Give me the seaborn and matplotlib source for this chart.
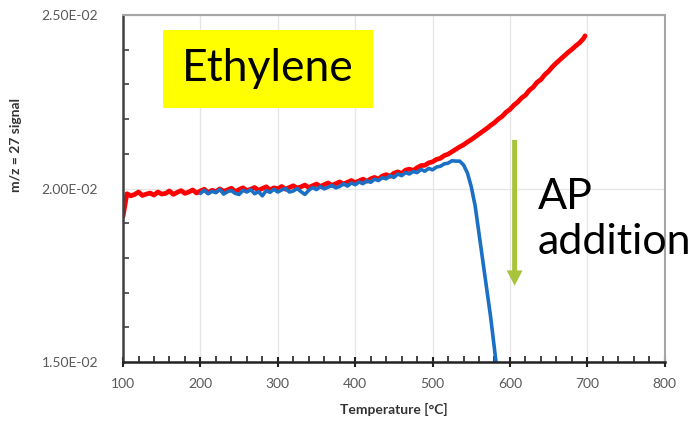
import matplotlib
matplotlib.use('Agg')
import matplotlib.pyplot as plt
import matplotlib.ticker as mticker
from matplotlib.patches import Rectangle
import seaborn as sns

# 데이터
temp_red = list(range(100, 700, 5)) + [697]
signal_red = [
    0.01920, 0.01985, 0.01979, 0.01983, 0.01990, 0.01980, 0.01984, 0.01987, 0.01981, 0.01990,
    0.01984, 0.01986, 0.01993, 0.01983, 0.01989, 0.01994, 0.01986, 0.01990, 0.01996, 0.01987,
    0.01993, 0.01998, 0.01988, 0.01995, 0.01991, 0.01999, 0.01992, 0.01996, 0.02001, 0.01991,
    0.01997, 0.02002, 0.01994, 0.01998, 0.02003, 0.01995, 0.02000, 0.02005, 0.01996, 0.02002,
    0.01999, 0.02006, 0.01998, 0.02003, 0.02008, 0.02001, 0.02005, 0.02010, 0.02003, 0.02008,
    0.02013, 0.02006, 0.02011, 0.02016, 0.02009, 0.02014, 0.02019, 0.02013, 0.02018, 0.02023,
    0.02017, 0.02022, 0.02027, 0.02021, 0.02028, 0.02032, 0.02027, 0.02036, 0.02040, 0.02035,
    0.02044, 0.02048, 0.02043, 0.02053, 0.02056, 0.02052,
    0.02060, 0.02066, 0.02067, 0.02074, 0.02077, 0.02084, 0.02087, 0.02095, 0.02099, 0.02106,
    0.02113, 0.02120, 0.02126, 0.02134, 0.02141, 0.02149, 0.02157, 0.02165, 0.02173, 0.02182,
    0.02190, 0.02200, 0.02208, 0.02220, 0.02228, 0.02240, 0.02249, 0.02261, 0.02269, 0.02283,
    0.02292, 0.02306, 0.02314, 0.02328, 0.02338, 0.02351, 0.02362, 0.02372, 0.02382, 0.02392,
    0.02401, 0.02411, 0.02420, 0.02432, 0.02440,
]

temp_blue = list(range(200, 555, 5)) + [555, 560, 565, 570, 575, 582, 585]
signal_blue = [
    0.01986, 0.01995, 0.01985, 0.01992, 0.01988, 0.01998, 0.01984, 0.01991, 0.01994, 0.01986,
    0.01983, 0.01995, 0.01990, 0.01997, 0.01985, 0.01991, 0.01979, 0.01994, 0.01989, 0.01998,
    0.01990, 0.01996, 0.02000, 0.01990, 0.01993, 0.02000, 0.01991, 0.01983, 0.01995, 0.02003,
    0.01997, 0.02006, 0.01999, 0.02004, 0.02009, 0.02002, 0.02006, 0.02014, 0.02007, 0.02016,
    0.02011, 0.02019, 0.02014, 0.02022, 0.02018, 0.02027, 0.02023, 0.02031, 0.02028, 0.02037,
    0.02032, 0.02042, 0.02037, 0.02046, 0.02042, 0.02049, 0.02046, 0.02055, 0.02050, 0.02058,
    0.02054, 0.02062, 0.02064, 0.02071, 0.02073, 0.02080, 0.02079, 0.02079, 0.02068, 0.02045,
    0.02005,
    0.01950, 0.01870, 0.01790, 0.01710, 0.01630, 0.01500, 0.01450,
]

arrow_temp = 606
arrow_from = 0.0214
arrow_to = 0.0172

x_ticks = [100, 200, 300, 400, 500, 600, 700, 800]
y_ticks = [0.015, 0.020, 0.025]

sns.set_theme(style='white')
plt.rcParams['font.family'] = ['Lato', 'DejaVu Sans']

fig = plt.figure(figsize=(6.99, 4.22), dpi=100)
ax = fig.add_axes([0.176, 0.142, 0.775, 0.8225])

sns.lineplot(x=temp_red, y=signal_red, ax=ax, color='#ff0000', linewidth=3.4)
sns.lineplot(x=temp_blue, y=signal_blue, ax=ax, color='#1a70c4', linewidth=2.6)

ax.set_xlim(100, 800)
ax.set_ylim(0.015, 0.025)
ax.set_xticks(x_ticks)
ax.set_yticks(y_ticks)
ax.xaxis.set_minor_locator(mticker.MultipleLocator(20))
ax.yaxis.set_minor_locator(mticker.MultipleLocator(0.001))
ax.yaxis.set_major_formatter(mticker.FormatStrFormatter('%.2E'))

ax.grid(True, which='major', color='#e6e6e6', linewidth=1)
ax.set_axisbelow(True)

for side in ['top', 'right']:
    ax.spines[side].set_color('#a6a6a6')
    ax.spines[side].set_linewidth(1.5)
ax.spines['left'].set_color('#404040')
ax.spines['left'].set_linewidth(1.8)
ax.spines['bottom'].set_color('#222222')
ax.spines['bottom'].set_linewidth(1.8)

ax.tick_params(axis='x', which='major', direction='inout', length=7, width=1.5,
               color='#222222', labelsize=10, labelcolor='#595959', pad=8, bottom=True)
ax.tick_params(axis='x', which='minor', direction='in', length=4, width=1.2,
               color='#222222', bottom=True)
ax.tick_params(axis='y', which='major', direction='in', length=0, labelsize=10,
               labelcolor='#595959', pad=18, left=True)
ax.tick_params(axis='y', which='minor', direction='in', length=4, width=1.2,
               color='#404040', left=True)

ax.set_xlabel('Temperature [°C]', fontsize=10, fontweight='bold', color='#333333',
              labelpad=9)
ax.set_ylabel('m/z = 27 signal', fontsize=10, fontweight='bold', color='#333333')
ax.yaxis.set_label_coords(-0.186, 0.625)

# 노란 박스
ax.add_patch(Rectangle((0.074, 0.732), 0.387, 0.225, transform=ax.transAxes,
                       facecolor='#ffff00', edgecolor='none', zorder=3))
ax.text(0.267, 0.845, 'Ethylene', transform=ax.transAxes, fontsize=32,
        ha='center', va='center', color='black', zorder=4)

# 화살표
ax.annotate('', xy=(arrow_temp, arrow_to), xytext=(arrow_temp, arrow_from),
            arrowprops=dict(facecolor='#a8c43c', edgecolor='none', width=3.6,
                            headwidth=11.5, headlength=11, shrink=0))

fig.text(538 / 699, 1 - 178 / 422, 'AP\naddition', fontsize=31, ha='left', va='top',
         linespacing=1.22, color='black')

plt.savefig('out.png', dpi=100)
